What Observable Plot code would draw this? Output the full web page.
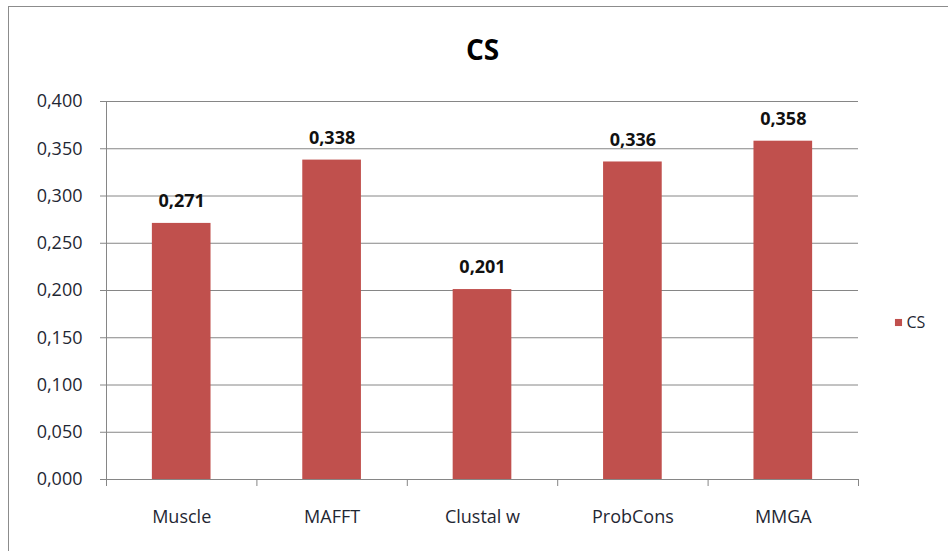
<!DOCTYPE html>
<html>
<head>
<meta charset="utf-8">
<script src="https://cdn.jsdelivr.net/npm/d3@7"></script>
<script src="https://cdn.jsdelivr.net/npm/@observablehq/plot@0.6"></script>
<style>
  html, body { margin: 0; padding: 0; background: #fff; overflow: hidden; }
  #wrap { position: relative; width: 948px; height: 551px; }
  #border { position: absolute; left: 8px; top: 6px; width: 980px; height: 580px;
            border: 1px solid #8c8c8c; box-sizing: border-box; pointer-events: none; }
  #chart { position: absolute; left: 0; top: 0; }
</style>
</head>
<body>
<div id="wrap"><div id="chart"></div><div id="border"></div></div>
<script>
// Column score (CS) per alignment tool
const tools = ["Muscle", "MAFFT", "Clustal w", "ProbCons", "MMGA"];
const cs = [0.271, 0.338, 0.201, 0.336, 0.358];
const yTicks = [0, 0.05, 0.1, 0.15, 0.2, 0.25, 0.3, 0.35, 0.4];
const seriesName = "CS";

const barColor = "#C0504D";
const gridColor = "#868686";
const font = "Open Sans, Lato, sans-serif";

// Each tool occupies one unit slot [i, i+1]; the bar fills the middle 39%.
const barHalf = 0.195;
const rows = tools.map((t, i) => ({tool: t, i, value: cs[i]}));

const comma = d3.format(".3f");
const fmt = (v) => comma(v).replace(".", ",");

const chart = Plot.plot({
  width: 948,
  height: 551,
  marginLeft: 106,
  marginRight: 90,
  marginTop: 101,
  marginBottom: 72,
  style: {fontFamily: font, background: "transparent"},
  x: {domain: [0, tools.length], axis: null, label: null},
  y: {domain: [0, 0.4], axis: null, label: null},
  marks: [
    Plot.gridY(yTicks, {stroke: gridColor, strokeOpacity: 1}),
    Plot.axisY(yTicks, {tickSize: 6, tickPadding: 18, stroke: gridColor, tickFormat: fmt,
      fontSize: 18, fill: "#1f2733", label: null}),
    // category boundary ticks
    Plot.axisX(d3.range(tools.length + 1), {tickSize: 7, stroke: gridColor,
      tickFormat: () => "", label: null}),
    // category names at slot centres
    Plot.axisX(rows.map(d => d.i + 0.5), {tickSize: 0, tickPadding: 31,
      tickFormat: (d) => tools[Math.floor(d)], fontSize: 18, fill: "#1f2733", label: null}),
    Plot.rectY(rows, {x1: d => d.i + 0.5 - barHalf, x2: d => d.i + 0.5 + barHalf,
      y1: 0, y2: "value", fill: barColor}),
    Plot.ruleX([0], {stroke: gridColor}),
    Plot.ruleY([0], {stroke: gridColor}),
    Plot.text(rows, {x: d => d.i + 0.5, y: "value", text: d => fmt(d.value),
      dy: -22, fontSize: 18, fontWeight: "bold", fill: "#111"}),
    // title
    Plot.text([seriesName], {text: d => d, frameAnchor: "top", dy: -61,
      fontSize: 28, fontWeight: "bold", fill: "#000"}),
    // legend
    Plot.dot([seriesName], {frameAnchor: "right", dx: 40, dy: 32, symbol: "square",
      r: 4, fill: barColor}),
    Plot.text([seriesName], {text: d => d, frameAnchor: "right", dx: 48, dy: 32,
      textAnchor: "start", fontSize: 16, fill: "#1f2733"})
  ]
});
document.getElementById("chart").append(chart);
</script>
</body>
</html>
